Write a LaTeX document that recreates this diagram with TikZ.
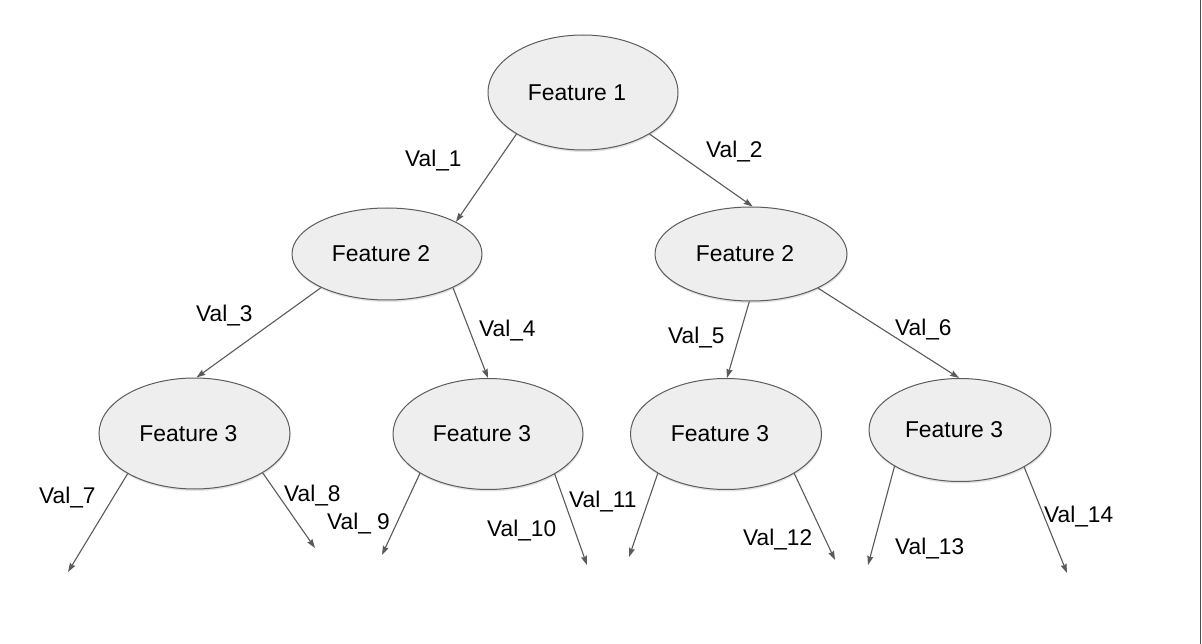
\documentclass[tikz,border=0pt]{standalone}
\usepackage{fontspec}
\setmainfont{Liberation Sans}
\usetikzlibrary{shapes.geometric,arrows.meta,shadows}
\definecolor{edgegray}{HTML}{5A5A5A}
\definecolor{nodefill}{HTML}{EEEEEE}
\definecolor{nodeline}{HTML}{5C5C5C}
\newcommand{\ftxt}[1]{#1\kern12pt\relax}
\tikzset{
  feat/.style={ellipse, draw=nodeline, fill=nodefill, line width=1pt, inner sep=0pt,
    font=\fontsize{22.9}{27}\selectfont,
    drop shadow={opacity=0.22, shadow xshift=0.5pt, shadow yshift=-2pt}},
  conn/.style={draw=edgegray, line width=1.1pt,
    -{Stealth[length=9pt,width=6pt,inset=1pt]}},
  lab/.style={anchor=base west, inner sep=0pt, font=\fontsize{22.7}{27}\selectfont}
}
\begin{document}
\begin{tikzpicture}[x=1pt,y=-1pt]
\useasboundingbox (0,0) rectangle (1202,644);
\fill[white] (0,0) rectangle (1202,644);
\draw[color=black!70, line width=1.5pt] (1200.5,0) -- (1200.5,644);

% nodes
\node[feat, minimum width=190pt, minimum height=115pt] (f1) at (583,92.5) {\ftxt{Feature 1}};
\node[feat, minimum width=190pt, minimum height=92pt] (f2l) at (387,254) {\ftxt{Feature 2}};
\node[feat, minimum width=192pt, minimum height=94pt] (f2r) at (751,254) {\ftxt{Feature 2}};
\node[feat, minimum width=191pt, minimum height=111pt] (f3a) at (194.5,433.5) {\ftxt{Feature 3}};
\node[feat, minimum width=190pt, minimum height=111pt] (f3b) at (488,434) {\ftxt{Feature 3}};
\node[feat, minimum width=191pt, minimum height=111pt] (f3c) at (726,434) {\ftxt{Feature 3}};
\node[feat, minimum width=182pt, minimum height=103pt] (f3d) at (960,430) {\ftxt{Feature 3}};

% free ends
\coordinate (e7) at (68,572);
\coordinate (e8) at (315,548);
\coordinate (e9) at (382,555);
\coordinate (e10) at (587,565);
\coordinate (e11) at (629,557);
\coordinate (e12) at (835,560);
\coordinate (e13) at (868,565);
\coordinate (e14) at (1067,573);

% connectors
\draw[conn] (f1.212.8) -- (f2l.25.2);
\draw[conn] (f1.328.3) -- (f2r.88.8);
\draw[conn] (f2l.207.6) -- (f3a.88.5);
\draw[conn] (f2l.333.4) -- (f3b.90.5);
\draw[conn] (f2r.268) -- (f3c.89);
\draw[conn] (f2r.333.4) -- (f3d.91);
\draw[conn] (f3a.211.6) -- (e7);
\draw[conn] (f3a.330) -- (e8);
\draw[conn] (f3b.210.5) -- (e9);
\draw[conn] (f3b.329.8) -- (e10);
\draw[conn] (f3c.210.6) -- (e11);
\draw[conn] (f3c.330) -- (e12);
\draw[conn] (f3d.209.6) -- (e13);
\draw[conn] (f3d.330) -- (e14);

% labels
\node[lab] (l1) at (405,167) {Val\_1};
\node[lab] (l2) at (706,158) {Val\_2};
\node[lab] (l3) at (196,322) {Val\_3};
\node[lab] (l4) at (479,337) {Val\_4};
\node[lab] (l5) at (668,343) {Val\_5};
\node[lab] (l6) at (895,335) {Val\_6};
\node[lab] (l7) at (39,503) {Val\_7};
\node[lab] (l8) at (284,501) {Val\_8};
\node[lab] (l9) at (327,529) {Val\_ 9};
\node[lab] (l10) at (487,536) {Val\_10};
\node[lab] (l11) at (569,507) {Val\_11};
\node[lab] (l12) at (743,545) {Val\_12};
\node[lab] (l13) at (895,554) {Val\_13};
\node[lab] (l14) at (1044,522) {Val\_14};
\end{tikzpicture}
\end{document}
